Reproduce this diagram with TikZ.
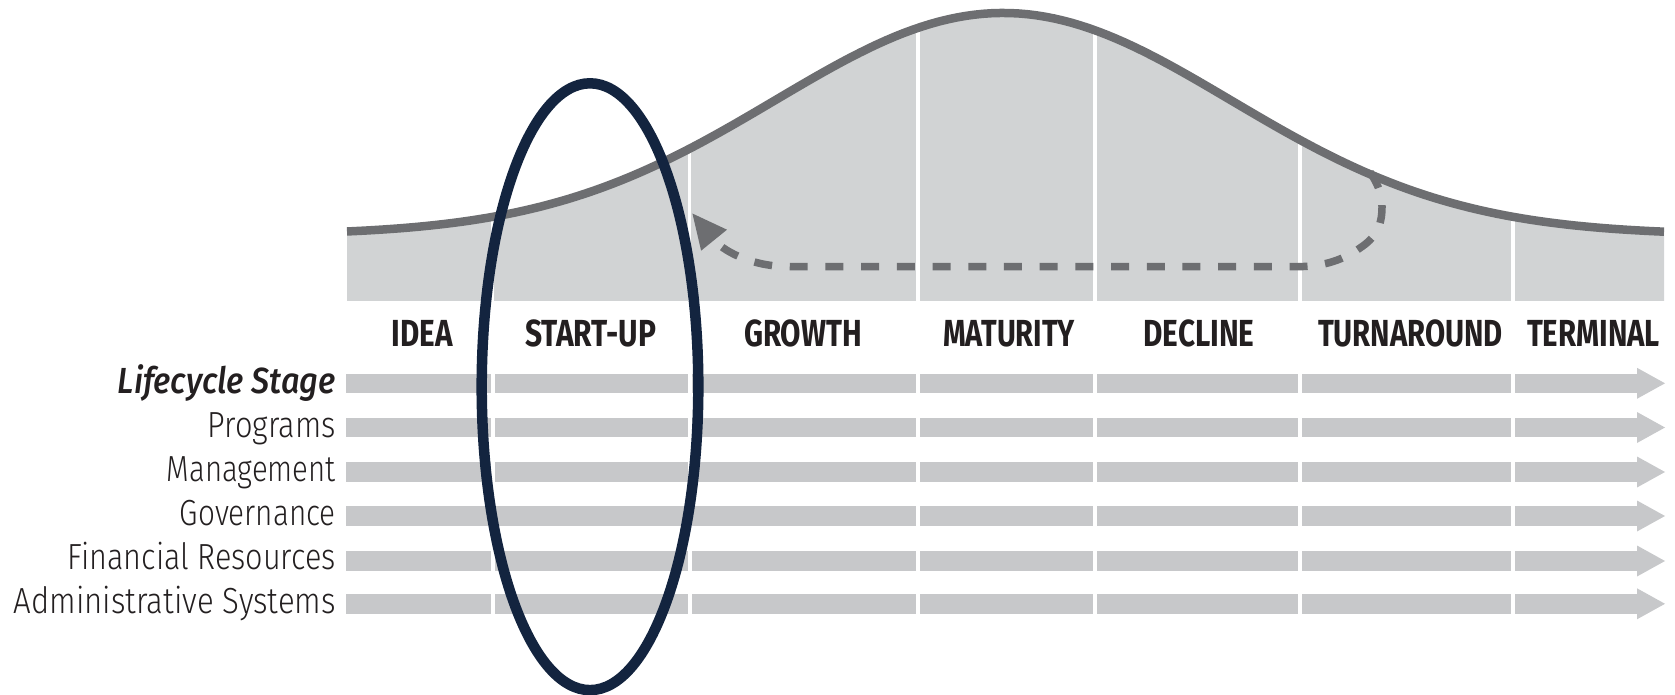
\documentclass[tikz,border=0pt]{standalone}
\usepackage{fontspec}
\usepackage{graphicx}
\setmainfont{Fira Sans}
\newfontfamily\lightfont{Fira Sans Light}
\newfontfamily\medfont{Fira Sans Medium}
\usetikzlibrary{arrows.meta}
\definecolor{curvegray}{HTML}{6D6E71}
\definecolor{mtn}{HTML}{D1D3D4}
\definecolor{bargray}{HTML}{C7C8CA}
\definecolor{navy}{HTML}{13243F}
\definecolor{txt}{HTML}{231F20}
\newcommand\fitw[2]{\resizebox{#1pt}{\height}{#2}}
\tikzset{
  lbl/.style={inner sep=0pt, text=txt, anchor=base east, font=\fontsize{36.3}{40}\selectfont\lightfont},
  hdr/.style={inner sep=0pt, text=txt, anchor=base, font=\fontsize{37.7}{40}\selectfont\bfseries},
  curveline/.style={curvegray, line width=8.5pt},
  dashline/.style={curvegray, line width=7.5pt, dash pattern=on 18pt off 17.7pt, -{Triangle[length=35pt,width=31pt]}},
  sepline/.style={white, line width=3.5pt},
  ringline/.style={navy, line width=10.5pt}
}
\begin{document}
\begin{tikzpicture}[x=1pt,y=-1pt]
\useasboundingbox (0,0) rectangle (1675,695);
% mountain
\begin{scope}
\clip (347,301) -- plot[domain=347:1664,samples=150] (\x,{235-222*exp(-0.5*((\x-1003)/228)^2)}) -- (1664,301) -- cycle;
\fill[mtn] (340,0) rectangle (1670,301);
\foreach \s in {492.5,689.5,918,1095,1300,1513} \draw[sepline] (\s,0) -- (\s,305);
\end{scope}
% dashed return arrow
\coordinate (dstart) at (1370,172);
\coordinate (dend) at (692,213);
\draw[dashline] (dstart) .. controls (1380,188) and (1382,196) .. (1382,207)
  .. controls (1382,227) and (1375,238) .. (1360,248)
  .. controls (1340,262) and (1320,266.7) .. (1295,266.7)
  -- (790,266.7) .. controls (750,266.7) and (722,250) .. (dend);
% curve
\draw[curveline] plot[domain=347:1664,samples=150] (\x,{235-222*exp(-0.5*((\x-1003)/228)^2)});
% bars
\foreach \yc in {383.3,427.5,472,516,561,603.8} {
  \fill[bargray] (346,\yc-9.8) rectangle (1638,\yc+9.8);
  \fill[bargray] (1637,\yc-15.5) -- (1665,\yc) -- (1637,\yc+15.5) -- cycle;
  \foreach \s in {492.5,690,918,1095,1300,1513}
    \fill[white] (\s-2,\yc-10.5) rectangle (\s+2,\yc+10.5);
}
% headers
\node[hdr] (hidea) at (422,346) {\fitw{61}{IDEA}};
\node[hdr] (hstart) at (590.5,346) {\fitw{131}{START-UP}};
\node[hdr] (hgrowth) at (803,346) {\fitw{118}{GROWTH}};
\node[hdr] (hmat) at (1009,346) {\fitw{132}{MATURITY}};
\node[hdr] (hdec) at (1199,346) {\fitw{111}{DECLINE}};
\node[hdr] (hturn) at (1410.5,346) {\fitw{185}{TURNAROUND}};
\node[hdr] (hterm) at (1593.5,346) {\fitw{133}{TERMINAL}};
% row labels
\node[lbl] (lstage) at (336,393) {\fitw{218}{\medfont\itshape Lifecycle Stage}};
\node[lbl] (lprog) at (336,437) {\fitw{128}{Programs}};
\node[lbl] (lman) at (336,481.7) {\fitw{169}{Management}};
\node[lbl] (lgov) at (336,525) {\fitw{156}{Governance}};
\node[lbl] (lfin) at (336,569.3) {\fitw{268}{Financial Resources}};
\node[lbl] (ladm) at (336,613.3) {\fitw{322}{Administrative Systems}};
% highlight ellipse
\draw[ringline] (590,386.7) ellipse [x radius=108.3pt, y radius=303.4pt];
\end{tikzpicture}
\end{document}
